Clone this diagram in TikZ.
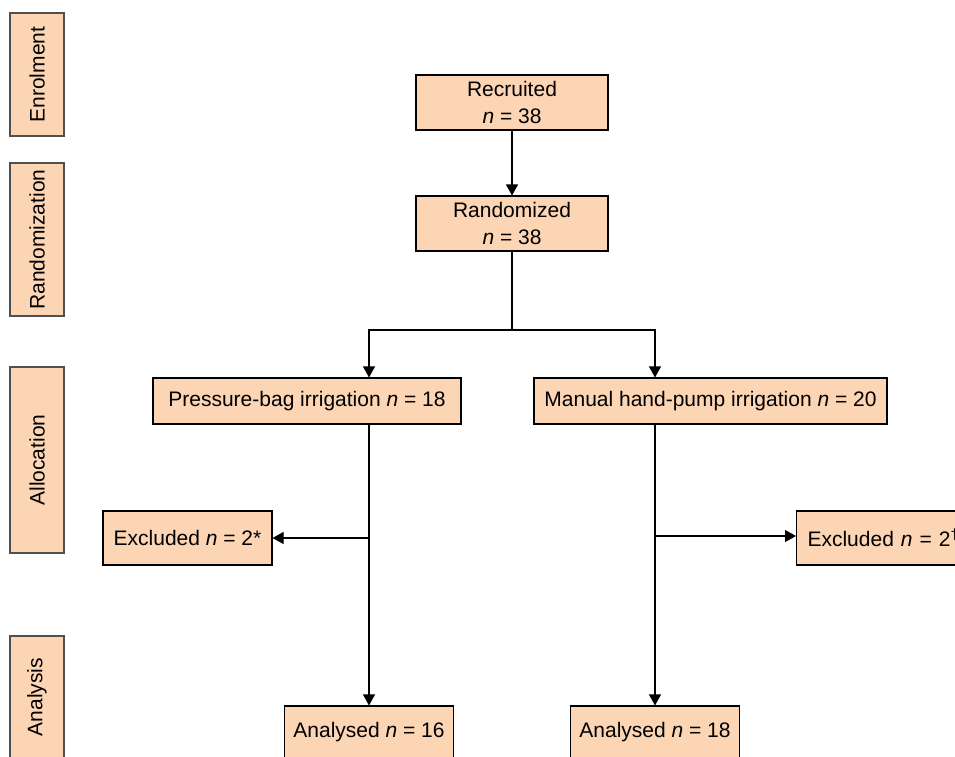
\documentclass[tikz,border=0pt]{standalone}
\usepackage{fontspec}
\setmainfont{Liberation Sans}
\usetikzlibrary{arrows.meta}
\definecolor{peach}{HTML}{FCD5B4}
\definecolor{sideline}{HTML}{505050}
\begin{document}
\begin{tikzpicture}[x=1pt,y=-1pt,
  box/.style={draw=black,fill=peach,line width=1.1pt,inner sep=0pt,align=center,
    font=\fontsize{21}{26.5}\selectfont},
  side/.style={draw=sideline,fill=peach,line width=1.1pt,inner sep=0pt,rotate=90,
    font=\fontsize{21}{26}\selectfont},
  arr/.style={line width=1.1pt,-{Triangle[length=11pt,width=12pt]}},
  ln/.style={line width=1.1pt}]
\clip (0,0) rectangle (955,756);
\fill[white] (0,0) rectangle (955,756);
% side labels
\node[side,minimum width=123pt,minimum height=54pt] (enr) at (37,74.5) {Enrolment};
\node[side,minimum width=153pt,minimum height=54pt] (rdz) at (37,239.5) {Randomization};
\node[side,minimum width=186pt,minimum height=54pt] (alc) at (37,460) {Allocation};
\node[side,minimum width=122pt,minimum height=54pt] (ana) at (37,697) {Analysis};
% main boxes
\node[box,minimum width=192pt,minimum height=55pt] (rec) at (512,102.5) {Recruited\\\textit{n} = 38};
\node[box,minimum width=192pt,minimum height=55pt] (rnd) at (512,223.5) {Randomized\\\textit{n} = 38};
\node[box,minimum width=308pt,minimum height=46pt] (pb) at (307,401) {Pressure-bag irrigation \textit{n} = 18};
\node[box,minimum width=353pt,minimum height=46pt] (mh) at (710.5,401) {Manual hand-pump irrigation \textit{n} = 20};
\node[box,minimum width=169pt,minimum height=54pt] (exL) at (187.5,538) {Excluded \textit{n} = 2*};
\node[box,minimum height=54pt,anchor=west,text width=180pt,inner xsep=11pt,align=left] (exR) at (796,538) {Excluded \textit{n} = 2\textsuperscript{†}};
\node[box,minimum width=169pt,minimum height=52pt] (anL) at (369,732) {Analysed \textit{n} = 16};
\node[box,minimum width=169pt,minimum height=52pt] (anR) at (655,732) {Analysed \textit{n} = 18};
% helper coordinates
\coordinate (cL) at (369,0);
\coordinate (cR) at (655,0);
\coordinate (sp) at (512,330);
\coordinate (yL) at (0,538);
\coordinate (yR) at (0,536);
% connectors
\draw[arr] (rec) -- (rnd);
\draw[ln] (rnd.south) -- (sp);
\draw[arr] (sp) -| (pb.north -| cL);
\draw[arr] (sp) -| (mh.north -| cR);
\draw[arr] (pb.south -| cL) -- (anL.north);
\draw[arr] (mh.south -| cR) -- (anR.north);
\draw[arr] (cL |- yL) -- (exL.east);
\draw[arr] (cR |- yR) -- (exR.west |- yR);
\end{tikzpicture}
\end{document}
